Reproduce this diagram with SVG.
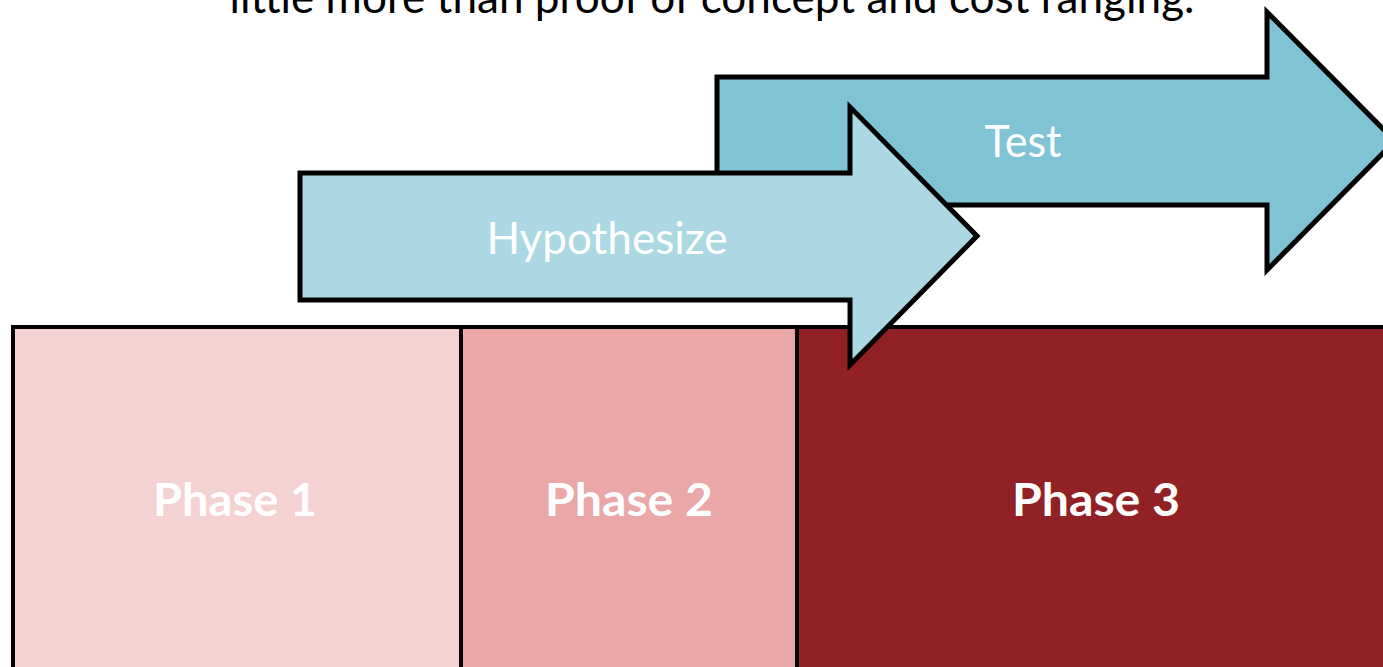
<svg xmlns="http://www.w3.org/2000/svg" width="1383" height="667" viewBox="0 0 1383 667">
<style>
.box{stroke:#000;stroke-width:4}
.arrow{stroke:#000;stroke-width:5;stroke-linejoin:miter}
.lbl{font-family:Lato,"Open Sans",sans-serif;fill:#fff;text-anchor:middle}
.ph{font-size:46px;font-weight:bold}
.ar{font-size:44px}
.top{font-family:Lato,"Open Sans",sans-serif;font-size:44px;fill:#000;text-anchor:middle}
</style>
<rect width="1383" height="667" fill="#fff"/>
<text class="top" x="712" y="13" textLength="965" lengthAdjust="spacingAndGlyphs">little more than proof of concept and cost ranging.</text>
<g id="phase1"><rect class="box" x="13" y="327" width="448" height="360" fill="#F4D2D2"/><text class="lbl ph" x="235" y="516" textLength="164" lengthAdjust="spacingAndGlyphs">Phase 1</text></g>
<g id="phase2"><rect class="box" x="461" y="327" width="336" height="360" fill="#EAA7A8"/><text class="lbl ph" x="629" y="516" textLength="168" lengthAdjust="spacingAndGlyphs">Phase 2</text></g>
<g id="phase3"><rect class="box" x="797" y="327" width="620" height="360" fill="#922126"/><text class="lbl ph" x="1096" y="516" textLength="168" lengthAdjust="spacingAndGlyphs">Phase 3</text></g>
<g id="test"><path class="arrow" fill="#7FC3D4" d="M717,77 H1267 V12 L1395,141 L1267,270 V205 H717 Z"/><text class="lbl ar" x="1023" y="157" textLength="77" lengthAdjust="spacingAndGlyphs">Test</text></g>
<g id="hypothesize"><path class="arrow" fill="#ABD8E2" d="M300,173 H850 V107 L977,236 L850,365 V300 H300 Z"/><text class="lbl ar" x="607" y="254" textLength="241" lengthAdjust="spacingAndGlyphs">Hypothesize</text></g>
<g id="connectors"></g>
</svg>
